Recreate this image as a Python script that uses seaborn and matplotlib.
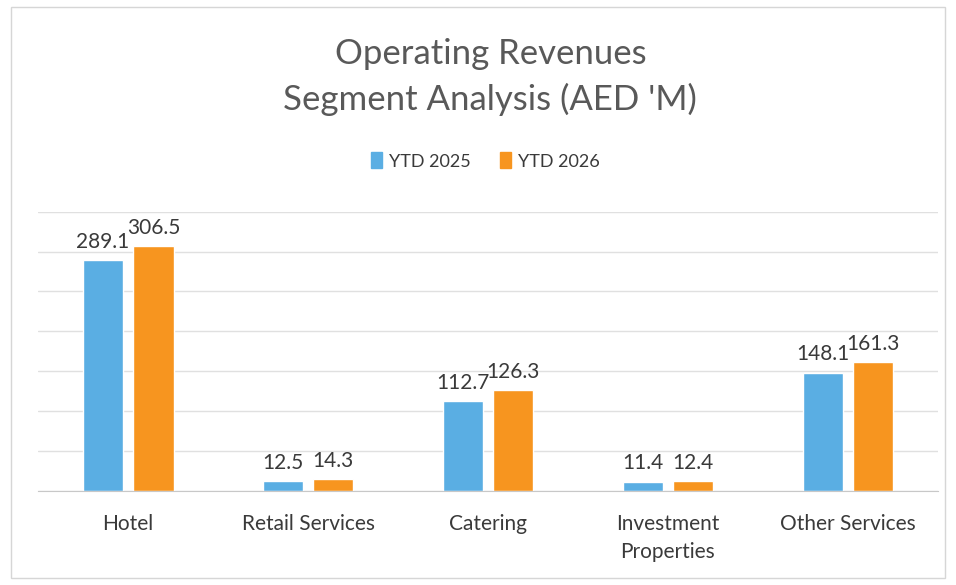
import pandas as pd
import matplotlib.pyplot as plt
import seaborn as sns
from matplotlib.patches import Rectangle

# ------- data ------- #
segments = ['Hotel', 'Retail Services', 'Catering', 'Investment\nProperties', 'Other Services']
ytd_2025 = [289.1, 12.5, 112.7, 11.4, 148.1]
ytd_2026 = [306.5, 14.3, 126.3, 12.4, 161.3]
series = ['YTD 2025', 'YTD 2026']
colors = ['#5aaee3', '#f7951f']

df = pd.DataFrame({'segment': segments * 2,
                   'value': ytd_2025 + ytd_2026,
                   'period': [series[0]] * len(segments) + [series[1]] * len(segments)})

sns.set_style('white')
plt.rcParams['font.family'] = ['Lato', 'DejaVu Sans']
txt = '#595959'

fig = plt.figure(figsize=(9.56, 5.85), dpi=100)
ax = fig.add_axes([0.04, 0.161, 0.941, 0.477])

sns.barplot(data=df, x='segment', y='value', hue='period', palette=colors,
            width=0.56, gap=0.2, ax=ax, legend=False, saturation=1)

for cont in ax.containers:
    ax.bar_label(cont, fmt='%.1f', padding=6, fontsize=15, color='#3a3a3a')

ax.set_ylim(0, 350)
ax.set_yticks(range(0, 351, 50))
ax.yaxis.grid(True, color='#e0e0e0', linewidth=1)
ax.set_yticklabels([])
ax.tick_params(axis='y', length=0)
ax.set_xlim(-0.5, len(segments) - 0.5)
ax.set_xlabel('')
ax.set_ylabel('')
ax.tick_params(axis='x', length=0, labelsize=15, labelcolor='#3a3a3a', pad=17)
for lbl in ax.get_xticklabels():
    lbl.set_linespacing(1.45)
ax.set_xticks([i - 0.5 for i in range(len(segments) + 1)], minor=True)
ax.tick_params(axis='x', which='minor', length=5, color='#d0d0d0')
for s in ['left', 'right', 'top']:
    ax.spines[s].set_visible(False)
ax.spines['bottom'].set_color('#c8c8c8')
ax.set_axisbelow(True)

# legend
handles = [Rectangle((0, 0), 1, 1, color=c) for c in colors]
fig.legend(handles, series, loc='center', bbox_to_anchor=(0.508, 0.725), ncol=2,
           frameon=False, fontsize=13, handlelength=0.6, handleheight=1.0,
           handletextpad=0.4, columnspacing=1.6, labelcolor='#3a3a3a')

fig.text(0.513, 0.908, 'Operating Revenues', ha='center', va='center', fontsize=25, color=txt)
fig.text(0.513, 0.830, "Segment Analysis (AED 'M)", ha='center', va='center', fontsize=25, color=txt)

# scanned frame
fig.patches.append(Rectangle((0.012, 0.012), 0.976, 0.976, transform=fig.transFigure,
                             fill=False, edgecolor='#d6d6d6', linewidth=1))

fig.savefig('out.png', dpi=100)
